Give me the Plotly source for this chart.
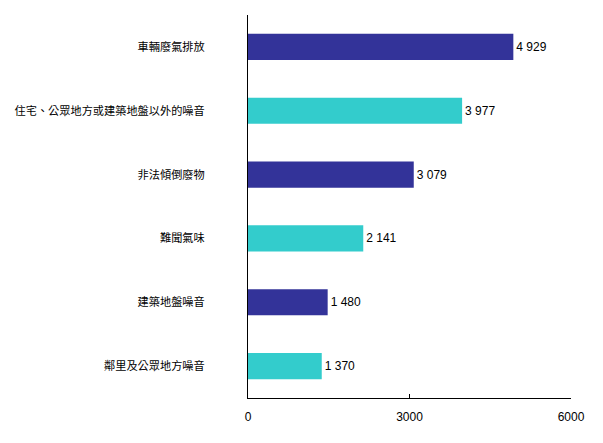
import plotly.graph_objects as go

categories = ["車輛廢氣排放", "住宅、公眾地方或建築地盤以外的噪音", "非法傾倒廢物",
              "難聞氣味", "建築地盤噪音", "鄰里及公眾地方噪音"]
values = [4929, 3977, 3079, 2141, 1480, 1370]
bar_colors = ["#333399", "#33CCCC", "#333399", "#33CCCC", "#333399", "#33CCCC"]
x_ticks = [0, 3000, 6000]

fig = go.Figure()
fig.add_trace(go.Bar(
    y=categories, x=values, orientation="h",
    marker=dict(color=bar_colors, line=dict(width=0)),
    width=0.41,
    texttemplate="%{x:,}", textposition="outside",
    textfont=dict(family="Liberation Sans, Arial", size=12, color="black"),
    cliponaxis=False, hoverinfo="skip",
))

# the page puts the figure 8px in from the top-left corner
fig.update_layout(
    width=595, height=435,
    margin=dict(l=240, r=32, t=7, b=45),
    paper_bgcolor="white", plot_bgcolor="white",
    separators=". ",
    showlegend=False,
    font=dict(family="Noto Sans CJK TC, Liberation Sans", size=12, color="black"),
)
fig.update_yaxes(
    showline=True, linecolor="black", linewidth=1,
    showgrid=False, ticks="", ticklen=0, automargin=False,
    tickfont=dict(family="Noto Sans CJK TC", size=11.2, color="black"),
    range=[5.5, -0.5], ticklabelstandoff=40,
)
fig.update_xaxes(
    range=[0, 6000], tickvals=x_ticks, tickformat="d",
    showline=True, linecolor="black", linewidth=1, showgrid=False,
    ticks="inside", ticklen=4, tickcolor="black", zeroline=False, automargin=False,
    tickfont=dict(family="Liberation Sans, Arial", size=12, color="black"),
    ticklabelstandoff=8,
)

fig.write_html("out.html")
